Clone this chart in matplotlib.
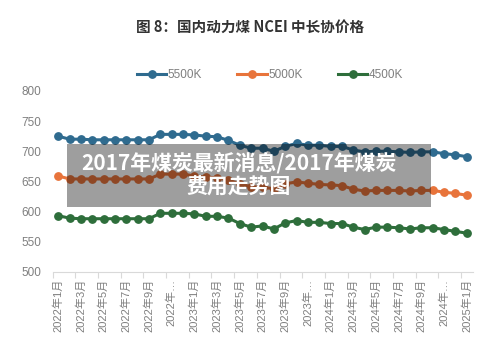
import matplotlib
matplotlib.use("Agg")
import matplotlib.pyplot as plt
from matplotlib.patches import Rectangle

plt.rcParams['font.family'] = ['Liberation Sans', 'Noto Sans CJK SC', 'DejaVu Sans']

# 月份：2022年1月 ~ 2025年1月
meses = []
for anio in (2022, 2023, 2024):
    for m in range(1, 13):
        meses.append(f"{anio}年{m}月")
meses.append("2025年1月")

# NCEI 中长协价格（元/吨）
k5500 = [725, 720, 720, 719, 719, 719, 719, 719, 719, 728, 728, 728, 727, 725, 724, 718, 710, 705, 705, 700,
         708, 713, 710, 710, 708, 708, 702, 699, 700, 700, 699, 698, 699, 699, 696, 694, 691]
k5000 = [659, 654, 654, 654, 654, 654, 654, 654, 654, 662, 662, 662, 659, 657, 656, 652, 646, 641, 640, 638,
         646, 649, 647, 645, 644, 643, 637, 634, 635, 635, 635, 634, 635, 635, 632, 630, 627]
k4500 = [593, 589, 588, 588, 588, 588, 588, 588, 588, 597, 597, 597, 596, 592, 592, 589, 580, 574, 576, 571,
         581, 585, 582, 582, 580, 580, 574, 570, 574, 574, 573, 571, 573, 573, 570, 567, 564]

series = [("5500K", k5500, "#2F6B8F"), ("5000K", k5000, "#E8743B"), ("4500K", k4500, "#2E6E3B")]

fig = plt.figure(figsize=(5, 3.52), dpi=100)
ax = fig.add_axes([0.105, 0.228, 0.84, 0.5135])

x = list(range(len(meses)))
for nombre, vals, color in series:
    ax.plot(x, vals, color=color, lw=2.2, marker='o', ms=5.3, label=nombre)

ax.set_xlim(-0.5, len(meses) - 0.5)
ax.set_ylim(500, 800)
ax.set_yticks(range(500, 801, 50))
ax.tick_params(axis='y', length=0, labelcolor='#7F7F7F', labelsize=8.5, pad=8)

# marcas en los límites de categoría, etiquetas cada 2 meses
ax.set_xticks([i - 0.5 for i in range(0, len(meses), 2)])
ax.set_xticklabels([])
ax.tick_params(axis='x', which='major', length=4, color='#D9D9D9')
pos = list(range(0, len(meses), 2))
etiquetas = []
for i in pos:
    t = meses[i]
    if t.endswith("11月"):
        t = t[:5] + "…"
    etiquetas.append(t)
ax.set_xticks(pos, minor=True)
ax.set_xticklabels(etiquetas, minor=True, rotation=90, fontsize=8, color='#7F7F7F')
ax.tick_params(axis='x', which='minor', length=0, pad=5)

for s in ('top', 'right', 'left'):
    ax.spines[s].set_visible(False)
ax.spines['bottom'].set_color('#D9D9D9')

fig.text(0.5, 1 - 27 / 352, "图 8：国内动力煤 NCEI 中长协价格", ha='center', va='center',
         fontsize=10.5, fontweight='bold', color='#333333',
         family=['Noto Sans CJK SC', 'DejaVu Sans'])

fig.legend(loc='center', bbox_to_anchor=(0.54, 1 - 75 / 352), ncol=3, frameon=False,
           fontsize=8.5, handlelength=2.5, handletextpad=0.1, columnspacing=3.0,
           labelcolor='#7F7F7F')

# franja superpuesta
fig.add_artist(Rectangle((67 / 500, 1 - 207 / 352), 364 / 500, 63 / 352,
                         transform=fig.transFigure, facecolor='black', alpha=0.38,
                         edgecolor='none', zorder=10))
fig.text(239 / 500, 1 - 163 / 352, "2017年煤炭最新消息/2017年煤炭", ha='center', va='center',
         fontsize=15, fontweight='bold', color='white', zorder=11,
         family=['Noto Sans CJK SC', 'DejaVu Sans'])
fig.text(239 / 500, 1 - 187 / 352, "费用走势图", ha='center', va='center',
         fontsize=15, fontweight='bold', color='white', zorder=11,
         family=['Noto Sans CJK SC', 'DejaVu Sans'])

fig.savefig("out.png", dpi=100, facecolor='white')
